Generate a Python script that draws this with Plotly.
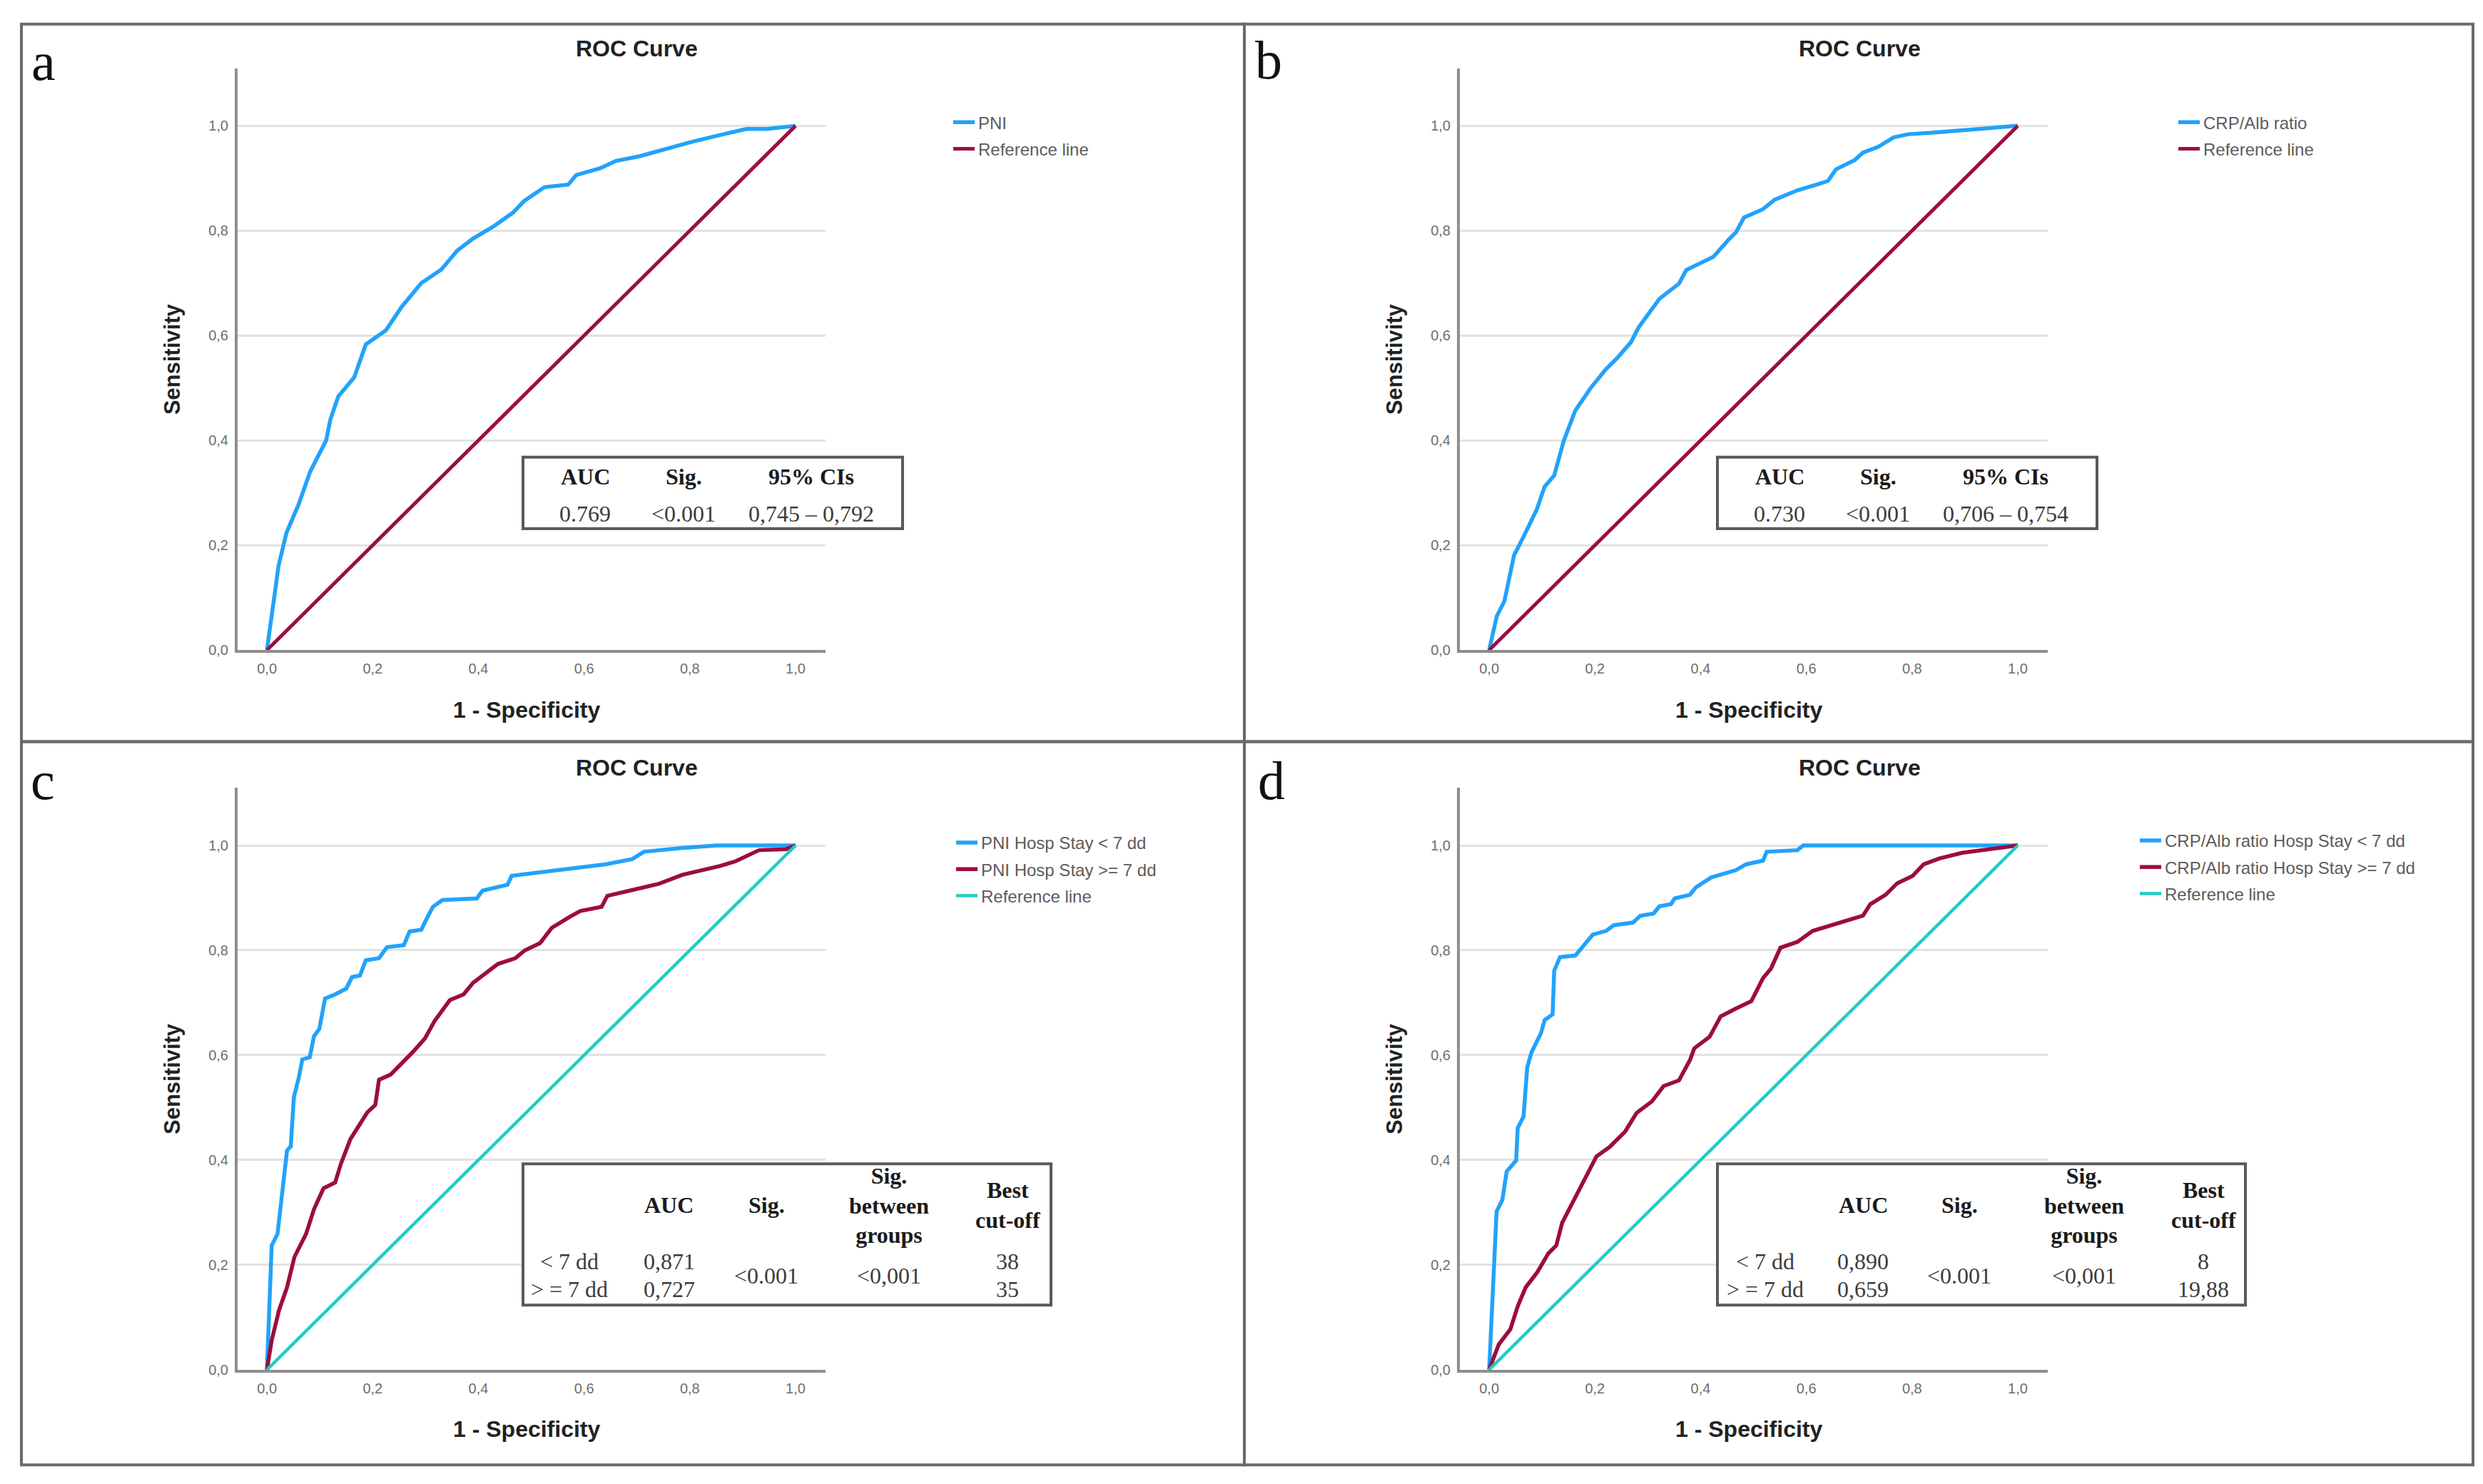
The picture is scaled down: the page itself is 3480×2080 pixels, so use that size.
import plotly.graph_objects as go

W, H = 3480, 2080

# ---------------- data ----------------
# Panel a: PNI
pni_fpr = [0, 0.022, 0.037, 0.06, 0.082, 0.105, 0.112, 0.12, 0.135, 0.165, 0.187, 0.225, 0.255,
           0.292, 0.33, 0.36, 0.39, 0.427, 0.465, 0.487, 0.525, 0.57, 0.585, 0.63, 0.66, 0.705,
           0.75, 0.802, 0.855, 0.907, 0.945, 1.0]
pni_tpr = [0, 0.161, 0.224, 0.278, 0.341, 0.385, 0.40, 0.44, 0.484, 0.52, 0.583, 0.61, 0.655,
           0.70, 0.726, 0.762, 0.785, 0.807, 0.834, 0.857, 0.883, 0.888, 0.906, 0.919, 0.933, 0.942,
           0.955, 0.969, 0.982, 0.994, 0.994, 1.0]

# Panel b: CRP/Alb ratio
crp_fpr = [0, 0.0145, 0.029, 0.047, 0.062, 0.09, 0.105, 0.123, 0.141, 0.163, 0.192, 0.221, 0.243,
           0.268, 0.283, 0.304, 0.322, 0.359, 0.373, 0.395, 0.424, 0.453, 0.467, 0.482, 0.518, 0.54,
           0.583, 0.62, 0.641, 0.656, 0.692, 0.707, 0.736, 0.765, 0.793, 0.837, 0.909, 1.0]
crp_tpr = [0, 0.065, 0.094, 0.181, 0.21, 0.268, 0.312, 0.333, 0.399, 0.457, 0.50, 0.536, 0.558,
           0.587, 0.616, 0.645, 0.67, 0.699, 0.725, 0.736, 0.75, 0.783, 0.797, 0.825, 0.841, 0.859,
           0.877, 0.888, 0.895, 0.917, 0.935, 0.949, 0.96, 0.978, 0.984, 0.987, 0.993, 1.0]

# Panel c: PNI by hospital stay
pni_lt7_fpr = [0, 0.005, 0.009, 0.02, 0.027, 0.038, 0.045, 0.051, 0.06, 0.067, 0.081, 0.089, 0.099,
               0.11, 0.129, 0.15, 0.161, 0.176, 0.187, 0.212, 0.227, 0.259, 0.27, 0.292, 0.299, 0.314,
               0.332, 0.397, 0.408, 0.455, 0.463, 0.502, 0.575, 0.64, 0.691, 0.713, 0.782, 0.851, 1.0]
pni_lt7_tpr = [0, 0.143, 0.237, 0.259, 0.324, 0.418, 0.426, 0.52, 0.556, 0.592, 0.596, 0.636, 0.65,
               0.708, 0.716, 0.727, 0.749, 0.752, 0.781, 0.785, 0.806, 0.81, 0.836, 0.839, 0.854, 0.883,
               0.896, 0.899, 0.914, 0.925, 0.942, 0.947, 0.957, 0.964, 0.974, 0.988, 0.995, 1.0, 1.0]
pni_ge7_fpr = [0, 0.009, 0.023, 0.038, 0.052, 0.074, 0.089, 0.107, 0.129, 0.14, 0.158, 0.169, 0.19,
               0.205, 0.212, 0.234, 0.256, 0.277, 0.299, 0.317, 0.346, 0.372, 0.39, 0.415, 0.437, 0.47,
               0.488, 0.517, 0.539, 0.575, 0.593, 0.633, 0.644, 0.691, 0.742, 0.786, 0.829, 0.858,
               0.887, 0.931, 0.982, 1.0]
pni_ge7_tpr = [0, 0.056, 0.114, 0.157, 0.215, 0.259, 0.306, 0.346, 0.357, 0.393, 0.44, 0.458, 0.491,
               0.505, 0.553, 0.563, 0.585, 0.607, 0.632, 0.665, 0.705, 0.716, 0.738, 0.756, 0.774, 0.785,
               0.80, 0.814, 0.843, 0.865, 0.875, 0.883, 0.904, 0.915, 0.927, 0.944, 0.954, 0.961,
               0.97, 0.991, 0.993, 1.0]

# Panel d: CRP/Alb ratio by hospital stay
crp_lt7_fpr = [0, 0.007, 0.014, 0.025, 0.033, 0.051, 0.054, 0.065, 0.072, 0.08, 0.098, 0.105, 0.12,
               0.123, 0.134, 0.163, 0.178, 0.196, 0.221, 0.236, 0.272, 0.286, 0.311, 0.322, 0.344,
               0.351, 0.38, 0.391, 0.42, 0.467, 0.486, 0.518, 0.525, 0.583, 0.594, 1.0]
crp_lt7_tpr = [0, 0.143, 0.302, 0.324, 0.378, 0.399, 0.461, 0.483, 0.577, 0.605, 0.642, 0.667, 0.678,
               0.761, 0.787, 0.79, 0.808, 0.83, 0.837, 0.848, 0.853, 0.866, 0.87, 0.884, 0.888,
               0.899, 0.906, 0.92, 0.939, 0.953, 0.964, 0.971, 0.988, 0.991, 1.0, 1.0]
crp_ge7_fpr = [0, 0.018, 0.04, 0.054, 0.069, 0.091, 0.112, 0.127, 0.138, 0.156, 0.178, 0.203, 0.228,
               0.257, 0.279, 0.308, 0.33, 0.359, 0.38, 0.388, 0.417, 0.438, 0.467, 0.496, 0.518, 0.533,
               0.551, 0.583, 0.612, 0.649, 0.707, 0.721, 0.75, 0.772, 0.801, 0.822, 0.851, 0.895,
               0.953, 1.0]
crp_ge7_tpr = [0, 0.048, 0.077, 0.121, 0.157, 0.186, 0.222, 0.237, 0.28, 0.316, 0.36, 0.407, 0.425,
               0.454, 0.49, 0.512, 0.541, 0.552, 0.591, 0.613, 0.635, 0.674, 0.689, 0.703, 0.747, 0.765,
               0.805, 0.816, 0.837, 0.848, 0.866, 0.888, 0.906, 0.928, 0.942, 0.964, 0.975, 0.986,
               0.993, 1.0]

ref_x = [0, 1]
ref_y = [0, 1]

y_ticks = [0.0, 0.2, 0.4, 0.6, 0.8, 1.0]
x_ticks = [0.0, 0.2, 0.4, 0.6, 0.8, 1.0]

panel_letters = ["a", "b", "c", "d"]
chart_title = "ROC Curve"
x_title = "1 - Specificity"
y_title = "Sensitivity"

# simple tables (panels a, b)
tab_ab_header = ["AUC", "Sig.", "95% CIs"]
tab_a_values = ["0.769", "&lt;0.001", "0,745 – 0,792"]
tab_b_values = ["0.730", "&lt;0.001", "0,706 – 0,754"]

# group tables (panels c, d)
tab_cd_header = ["AUC", "Sig.", "Sig.<br>between<br>groups", "Best<br>cut-off"]
tab_cd_rows = ["&lt; 7 dd", "&gt; = 7 dd"]
tab_c_auc = ["0,871", "0,727"]
tab_d_auc = ["0,890", "0,659"]
tab_c_sig = "&lt;0.001"
tab_d_sig = "&lt;0.001"
tab_c_between = "&lt;0,001"
tab_d_between = "&lt;0,001"
tab_c_cut = ["38", "35"]
tab_d_cut = ["8", "19,88"]

# ---------------- styling ----------------
SANS = "Liberation Sans, Arial, sans-serif"
SERIF = "Liberation Serif, Times New Roman, serif"
BLUE = "#22a2fb"
RED = "#9c0d3f"
CYAN = "#22cbc6"
AXIS_C = "#8e8e8e"
GRID_C = "#e2e2e2"
BORDER_C = "#6a6a6a"


def px(x):
    return x / W


def py(y):
    return 1 - y / H


fig = go.Figure()

# panel geometry in pixels: (x axis left, x axis right, y top, y bottom)
geo = {
    "a": dict(x0=325, x1=1149, y0=88, y1=908, ax="x", ay="y"),
    "b": dict(x0=2038, x1=2862, y0=88, y1=908, ax="x2", ay="y2"),
    "c": dict(x0=325, x1=1149, y0=1102, y1=1922, ax="x3", ay="y3"),
    "d": dict(x0=2038, x1=2862, y0=1102, y1=1922, ax="x4", ay="y4"),
}


# ---------------- traces ----------------
def add(xs, ys, name, color, panel, legend, width=5.5):
    g = geo[panel]
    fig.add_trace(go.Scatter(
        x=xs, y=ys, mode="lines", name=name,
        line=dict(color=color, width=width),
        xaxis=g["ax"], yaxis=g["ay"], legend=legend,
        legendgroup=panel + name, hoverinfo="skip"))


add(pni_fpr, pni_tpr, "PNI", BLUE, "a", "legend")
add(ref_x, ref_y, "Reference line", RED, "a", "legend", 5)
add(crp_fpr, crp_tpr, "CRP/Alb ratio", BLUE, "b", "legend2")
add(ref_x, ref_y, "Reference line", RED, "b", "legend2", 5)
add(pni_lt7_fpr, pni_lt7_tpr, "PNI Hosp Stay &lt; 7 dd", BLUE, "c", "legend3")
add(pni_ge7_fpr, pni_ge7_tpr, "PNI Hosp Stay &gt;= 7 dd", RED, "c", "legend3")
add(ref_x, ref_y, "Reference line", CYAN, "c", "legend3", 4.5)
add(crp_lt7_fpr, crp_lt7_tpr, "CRP/Alb ratio Hosp Stay &lt; 7 dd", BLUE, "d", "legend4")
add(crp_ge7_fpr, crp_ge7_tpr, "CRP/Alb ratio Hosp Stay &gt;= 7 dd", RED, "d", "legend4")
add(ref_x, ref_y, "Reference line", CYAN, "d", "legend4", 4.5)

# ---------------- axes ----------------
layout = dict(
    width=W, height=H, margin=dict(l=0, r=0, t=0, b=0),
    paper_bgcolor="white", plot_bgcolor="white",
    separators=",.", showlegend=True,
)

for i, (k, g) in enumerate(geo.items()):
    sfx = "" if i == 0 else str(i + 1)
    layout["xaxis" + sfx] = dict(
        domain=[px(g["x0"]), px(g["x1"])], range=[-0.0555, 1.0567],
        anchor=g["ay"], showline=True, linecolor=AXIS_C, linewidth=4,
        showgrid=False, zeroline=False, tickvals=x_ticks, tickformat=".1f",
        ticks="outside", ticklen=5, tickcolor="rgba(0,0,0,0)",
        tickfont=dict(family=SANS, size=20, color="#6e6e6e"), fixedrange=True)
    layout["yaxis" + sfx] = dict(
        domain=[py(g["y1"]), py(g["y0"])], range=[0, 1.11],
        anchor=g["ax"], showline=True, linecolor=AXIS_C, linewidth=4,
        showgrid=True, gridcolor=GRID_C, gridwidth=3, zeroline=False,
        tickvals=y_ticks, tickformat=".1f",
        ticks="outside", ticklen=5, tickcolor="rgba(0,0,0,0)",
        tickfont=dict(family=SANS, size=20, color="#6e6e6e"), fixedrange=True)

# ---------------- legends ----------------
leg_pos = {"legend": (1367, 160), "legend2": (3084, 160),
           "legend3": (1371, 1175), "legend4": (3030, 1172)}
for name, (tx, ty) in leg_pos.items():
    layout[name] = dict(
        x=px(tx - 44), y=py(ty - 18), xanchor="left", yanchor="top",
        bgcolor="rgba(0,0,0,0)", borderwidth=0,
        font=dict(family=SANS, size=24, color="#5c5c5c"),
        traceorder="grouped", tracegroupgap=3, itemclick=False, itemdoubleclick=False)

fig.update_layout(**layout)

# ---------------- annotations ----------------
ann = []


def text(x, y, t, size, family=SANS, color="#222", bold=False, angle=0, xanchor="center"):
    ann.append(dict(
        x=px(x), y=py(y), xref="paper", yref="paper", text=("<b>%s</b>" % t) if bold else t,
        showarrow=False, xanchor=xanchor, yanchor="middle", textangle=angle,
        font=dict(family=family, size=size, color=color)))


letter_pos = [(53, 78), (1770, 76), (52, 1092), (1774, 1092)]
for L, (x, y) in zip(panel_letters, letter_pos):
    text(x, y, L, 76, family=SERIF, color="#111")

for k, g in geo.items():
    cx = (g["x0"] + g["x1"]) / 2
    # chart title
    text(g["x0"] + 560, g["y0"] - 28, chart_title, 32, color="#222", bold=True)
    # x-axis title
    text(cx - 7, g["y1"] + 84, x_title, 32, color="#222", bold=True)
    # y-axis title
    text(g["x0"] - 92, (g["y0"] + g["y1"]) / 2, y_title, 31, color="#222", bold=True, angle=-90)

# tables
shapes = []


def box(x0, y0, x1, y1, color, width, fill="rgba(0,0,0,0)", layer="above"):
    shapes.append(dict(type="rect", xref="paper", yref="paper",
                       x0=px(x0), x1=px(x1), y0=py(y1), y1=py(y0),
                       line=dict(color=color, width=width), fillcolor=fill, layer=layer))


TS = 32
VAL_C = "#3c3c3c"
# panel a / b simple tables
for (bx, vals) in [(725, tab_a_values), (2399, tab_b_values)]:
    box(bx, 636, bx + 532, 737, "#5a5a5a", 4, fill="white")
    cols = [bx + 87, bx + 225, bx + 404]
    for c, h in zip(cols, tab_ab_header):
        text(c, 664, h, TS, family=SERIF, color="#1a1a1a", bold=True)
    for c, v in zip(cols, vals):
        text(c, 716, v, TS, family=SERIF, color=VAL_C)

# panel c / d group tables
for (bx, auc, sig, betw, cut) in [(725, tab_c_auc, tab_c_sig, tab_c_between, tab_c_cut),
                                  (2399, tab_d_auc, tab_d_sig, tab_d_between, tab_d_cut)]:
    box(bx, 1632, bx + 740, 1831, "#5a5a5a", 4, fill="white")
    if bx < 1000:
        cols = [790, 930, 1066, 1238, 1404]
    else:
        cols = [2466, 2603, 2738, 2913, 3080]
    for c, h in zip(cols[1:], tab_cd_header):
        text(c, 1690, h, TS, family=SERIF, color="#1a1a1a", bold=True)
    for r, (lab, a, ct) in enumerate(zip(tab_cd_rows, auc, cut)):
        yy = 1769 + 40 * r
        text(cols[0], yy, lab, TS, family=SERIF, color=VAL_C)
        text(cols[1], yy, a, TS, family=SERIF, color=VAL_C)
        text(cols[4], yy, ct, TS, family=SERIF, color=VAL_C)
    text(cols[2], 1789, sig, TS, family=SERIF, color=VAL_C)
    text(cols[3], 1789, betw, TS, family=SERIF, color=VAL_C)

# panel borders
box(22, 26, 1736, 1037, BORDER_C, 4, layer="below")
box(1736, 26, 3458, 1037, BORDER_C, 4, layer="below")
box(22, 1037, 1736, 2056, BORDER_C, 4, layer="below")
box(1736, 1037, 3458, 2056, BORDER_C, 4, layer="below")

fig.update_layout(annotations=ann, shapes=shapes)

fig.write_html("out.html")
